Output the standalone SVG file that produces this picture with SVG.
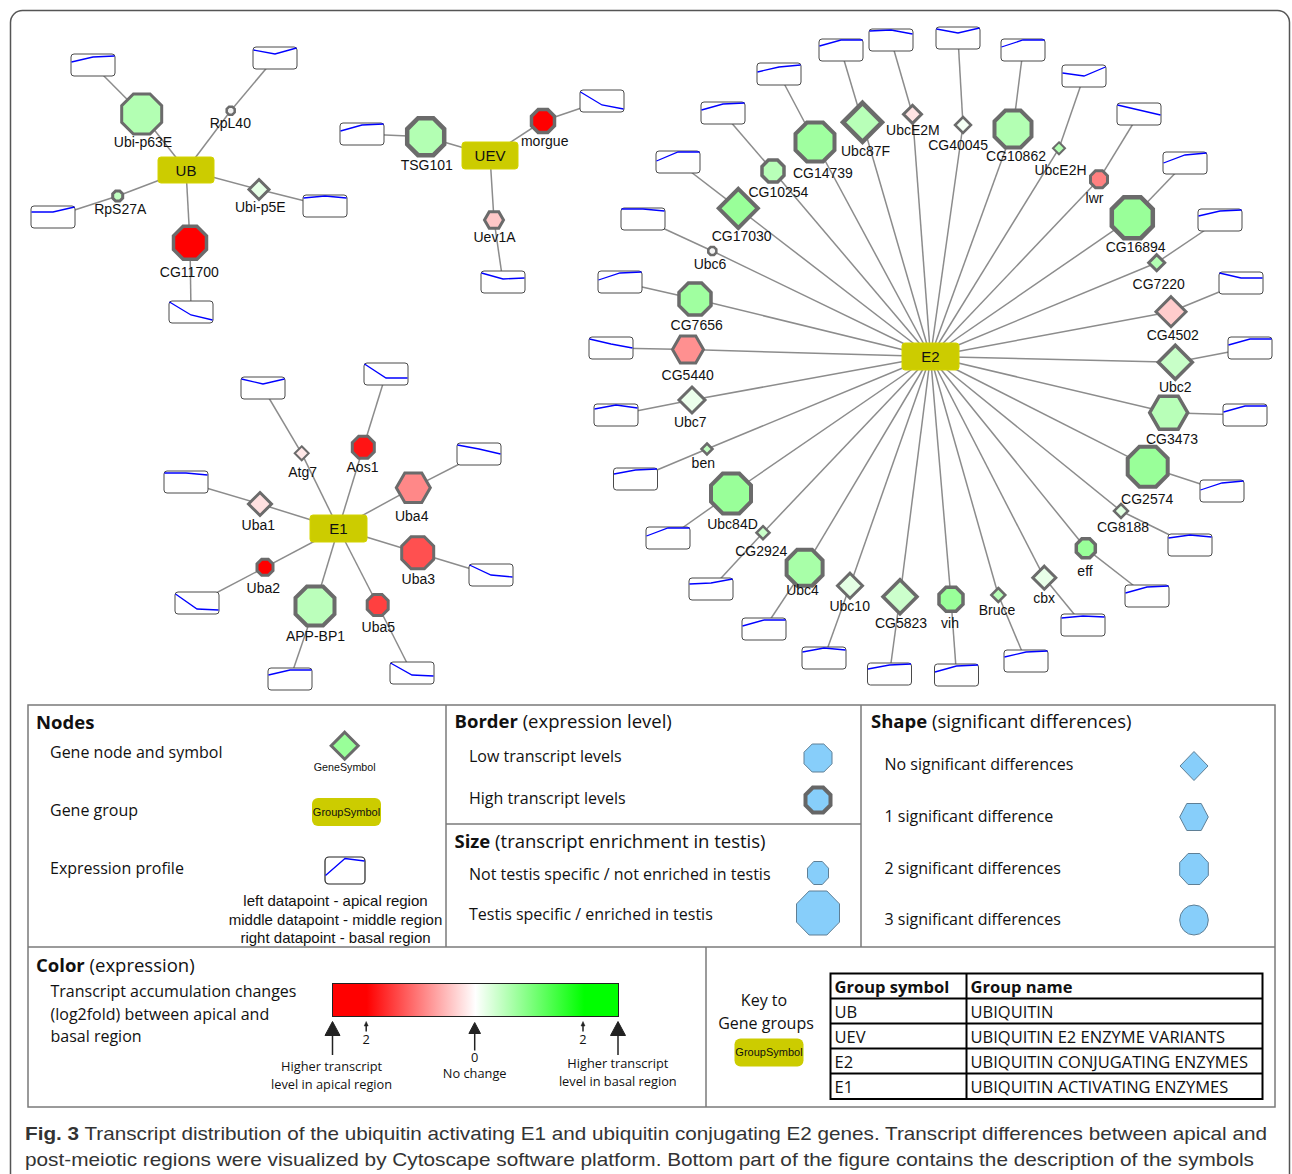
<svg xmlns="http://www.w3.org/2000/svg" width="1292" height="1174" viewBox="0 0 1292 1174">
<style>
.e{stroke:#8c8c8c;stroke-width:1.5;fill:none}
.pb{fill:#fff;stroke:#4a4a4a;stroke-width:1}
.pl{fill:none;stroke:#0000ff;stroke-width:1.3}
.n{stroke:#6b6b6b}
.lb{font-family:"Liberation Sans",Arial,sans-serif;font-size:14px;fill:#111;text-anchor:middle}
.gr{fill:#cccc00;stroke:#d4d400;stroke-width:1}
.gt{font-family:"Liberation Sans",Arial,sans-serif;font-size:15px;fill:#111;text-anchor:middle}
.fr{fill:none;stroke:#7a7a7a;stroke-width:1.5}
.lg{font-family:"Open Sans",sans-serif;font-size:16px;fill:#111}
.lh{font-family:"Open Sans",sans-serif;font-size:18.5px;fill:#111}
.tt{font-family:"Open Sans",sans-serif;font-size:16.5px;fill:#111}
.ct{font-family:"Open Sans",sans-serif;font-size:12.8px;fill:#111;text-anchor:middle}
.b{font-weight:bold}
.sm{font-family:"Liberation Sans",Arial,sans-serif;fill:#111;text-anchor:middle}
.lbl{fill:#87cefa;stroke:#5f7f95;stroke-width:1}
.ar{fill:#222;stroke:#222}
.as{stroke:#222;stroke-width:1.5}
.tb{fill:none;stroke:#000;stroke-width:2}
.cap{font-family:"Liberation Sans",Arial,sans-serif;font-size:19px;fill:#333}
</style>
<defs>
<polygon id="oct" points="1,-0.414 1,0.414 0.414,1 -0.414,1 -1,0.414 -1,-0.414 -0.414,-1 0.414,-1"/>
<polygon id="hex" points="1,0 0.5,0.866 -0.5,0.866 -1,0 -0.5,-0.866 0.5,-0.866"/>
<polygon id="dia" points="0,-1 1,0 0,1 -1,0"/>
<linearGradient id="grad" x1="0" y1="0" x2="1" y2="0">
<stop offset="0" stop-color="#ff0000"/>
<stop offset="0.12" stop-color="#ff0000"/>
<stop offset="0.5" stop-color="#ffffff"/>
<stop offset="0.88" stop-color="#00ff00"/>
<stop offset="1" stop-color="#00ff00"/>
</linearGradient>
</defs>
<rect x="10.5" y="10.5" width="1279" height="1220" rx="12" fill="none" stroke="#555" stroke-width="1.5"/>

<g id="connectors" class="e">
<line x1="186" y1="170" x2="141.7" y2="114"/><line x1="141.7" y1="114" x2="93" y2="65"/>
<line x1="186" y1="170" x2="230.7" y2="110.7"/><line x1="230.7" y1="110.7" x2="275" y2="58"/>
<line x1="186" y1="170" x2="259" y2="189.5"/><line x1="259" y1="189.5" x2="325" y2="206"/>
<line x1="186" y1="170" x2="117.7" y2="196"/><line x1="117.7" y1="196" x2="53" y2="217"/>
<line x1="186" y1="170" x2="190" y2="242.7"/><line x1="190" y1="242.7" x2="191" y2="312"/>
<line x1="490" y1="155.5" x2="425.7" y2="136.7"/><line x1="425.7" y1="136.7" x2="362" y2="134"/>
<line x1="490" y1="155.5" x2="543" y2="121"/><line x1="543" y1="121" x2="602" y2="101"/>
<line x1="490" y1="155.5" x2="494" y2="220"/><line x1="494" y1="220" x2="503" y2="282"/>
<line x1="338.5" y1="528.5" x2="301.7" y2="453.3"/><line x1="301.7" y1="453.3" x2="263" y2="388"/>
<line x1="338.5" y1="528.5" x2="363.3" y2="447.3"/><line x1="363.3" y1="447.3" x2="386" y2="374"/>
<line x1="338.5" y1="528.5" x2="413.3" y2="487.7"/><line x1="413.3" y1="487.7" x2="479" y2="454"/>
<line x1="338.5" y1="528.5" x2="417.7" y2="552.7"/><line x1="417.7" y1="552.7" x2="491" y2="575"/>
<line x1="338.5" y1="528.5" x2="377.7" y2="605"/><line x1="377.7" y1="605" x2="412" y2="673"/>
<line x1="338.5" y1="528.5" x2="315" y2="606"/><line x1="315" y1="606" x2="290" y2="679"/>
<line x1="338.5" y1="528.5" x2="265" y2="567.3"/><line x1="265" y1="567.3" x2="197" y2="603"/>
<line x1="338.5" y1="528.5" x2="260" y2="504"/><line x1="260" y1="504" x2="186" y2="482"/>
<line x1="930.5" y1="356.5" x2="773" y2="171"/><line x1="773" y1="171" x2="723" y2="113"/>
<line x1="930.5" y1="356.5" x2="738.3" y2="208.3"/><line x1="738.3" y1="208.3" x2="678" y2="162"/>
<line x1="930.5" y1="356.5" x2="815" y2="142"/><line x1="815" y1="142" x2="779" y2="74"/>
<line x1="930.5" y1="356.5" x2="862.5" y2="122.3"/><line x1="862.5" y1="122.3" x2="841" y2="50"/>
<line x1="930.5" y1="356.5" x2="912.5" y2="114.3"/><line x1="912.5" y1="114.3" x2="891" y2="40"/>
<line x1="930.5" y1="356.5" x2="963" y2="125"/><line x1="963" y1="125" x2="958" y2="38"/>
<line x1="930.5" y1="356.5" x2="1013" y2="129"/><line x1="1013" y1="129" x2="1023" y2="50"/>
<line x1="930.5" y1="356.5" x2="1059" y2="148.3"/><line x1="1059" y1="148.3" x2="1084" y2="76"/>
<line x1="930.5" y1="356.5" x2="1099" y2="179.3"/><line x1="1099" y1="179.3" x2="1139" y2="114"/>
<line x1="930.5" y1="356.5" x2="1132.3" y2="217.7"/><line x1="1132.3" y1="217.7" x2="1185" y2="163"/>
<line x1="930.5" y1="356.5" x2="1156.7" y2="262.7"/><line x1="1156.7" y1="262.7" x2="1220" y2="220"/>
<line x1="930.5" y1="356.5" x2="1171" y2="311.7"/><line x1="1171" y1="311.7" x2="1241" y2="283"/>
<line x1="930.5" y1="356.5" x2="1175.3" y2="362.3"/><line x1="1175.3" y1="362.3" x2="1250" y2="348"/>
<line x1="930.5" y1="356.5" x2="1168.7" y2="412.7"/><line x1="1168.7" y1="412.7" x2="1245" y2="415"/>
<line x1="930.5" y1="356.5" x2="1147.7" y2="466.7"/><line x1="1147.7" y1="466.7" x2="1222" y2="491"/>
<line x1="930.5" y1="356.5" x2="1121" y2="511"/><line x1="1121" y1="511" x2="1190" y2="545"/>
<line x1="930.5" y1="356.5" x2="1085.8" y2="548.3"/><line x1="1085.8" y1="548.3" x2="1147" y2="596"/>
<line x1="930.5" y1="356.5" x2="1044.3" y2="577.7"/><line x1="1044.3" y1="577.7" x2="1083" y2="625"/>
<line x1="930.5" y1="356.5" x2="998.3" y2="595"/><line x1="998.3" y1="595" x2="1026" y2="661"/>
<line x1="930.5" y1="356.5" x2="951" y2="599.3"/><line x1="951" y1="599.3" x2="956.5" y2="675"/>
<line x1="930.5" y1="356.5" x2="900" y2="596.7"/><line x1="900" y1="596.7" x2="889.5" y2="674"/>
<line x1="930.5" y1="356.5" x2="850" y2="585.7"/><line x1="850" y1="585.7" x2="824" y2="658"/>
<line x1="930.5" y1="356.5" x2="804.6" y2="567.7"/><line x1="804.6" y1="567.7" x2="764" y2="629"/>
<line x1="930.5" y1="356.5" x2="763" y2="532.7"/><line x1="763" y1="532.7" x2="711" y2="589"/>
<line x1="930.5" y1="356.5" x2="731" y2="493.5"/><line x1="731" y1="493.5" x2="668" y2="538"/>
<line x1="930.5" y1="356.5" x2="707" y2="449"/><line x1="707" y1="449" x2="635.5" y2="479"/>
<line x1="930.5" y1="356.5" x2="692" y2="400"/><line x1="692" y1="400" x2="616" y2="415"/>
<line x1="930.5" y1="356.5" x2="688" y2="349.5"/><line x1="688" y1="349.5" x2="611" y2="348"/>
<line x1="930.5" y1="356.5" x2="695" y2="299"/><line x1="695" y1="299" x2="620" y2="282"/>
<line x1="930.5" y1="356.5" x2="712.3" y2="251"/><line x1="712.3" y1="251" x2="643" y2="219"/>
</g>

<g id="profiles">
<g id="p-Ubi-p63E"><rect class="pb" x="71" y="54" width="44" height="22" rx="3"/><polyline class="pl" points="71.5,62 93,57 114.5,56"/></g>
<g id="p-RpL40"><rect class="pb" x="253" y="47" width="44" height="22" rx="3"/><polyline class="pl" points="253.5,50 275,54 296.5,48"/></g>
<g id="p-Ubi-p5E"><rect class="pb" x="303" y="195" width="44" height="22" rx="3"/><polyline class="pl" points="303.5,198 325,196 346.5,198"/></g>
<g id="p-RpS27A"><rect class="pb" x="31" y="206" width="44" height="22" rx="3"/><polyline class="pl" points="31.5,212 53,212 74.5,207"/></g>
<g id="p-CG11700"><rect class="pb" x="169" y="301" width="44" height="22" rx="3"/><polyline class="pl" points="169.5,302 191,315 212.5,320"/></g>
<g id="p-TSG101"><rect class="pb" x="340" y="123" width="44" height="22" rx="3"/><polyline class="pl" points="340.5,131 362,125 383.5,124"/></g>
<g id="p-morgue"><rect class="pb" x="580" y="90" width="44" height="22" rx="3"/><polyline class="pl" points="580.5,92 602,105 623.5,109"/></g>
<g id="p-Uev1A"><rect class="pb" x="481" y="271" width="44" height="22" rx="3"/><polyline class="pl" points="481.5,273 503,279 524.5,278"/></g>
<g id="p-Atg7"><rect class="pb" x="241" y="377" width="44" height="22" rx="3"/><polyline class="pl" points="241.5,379 263,384 284.5,379"/></g>
<g id="p-Aos1"><rect class="pb" x="364" y="363" width="44" height="22" rx="3"/><polyline class="pl" points="364.5,364 386,378 407.5,378"/></g>
<g id="p-Uba4"><rect class="pb" x="457" y="443" width="44" height="22" rx="3"/><polyline class="pl" points="457.5,445 479,449 500.5,454"/></g>
<g id="p-Uba3"><rect class="pb" x="469" y="564" width="44" height="22" rx="3"/><polyline class="pl" points="469.5,565 491,575 512.5,577"/></g>
<g id="p-Uba5"><rect class="pb" x="390" y="662" width="44" height="22" rx="3"/><polyline class="pl" points="390.5,663 412,675 433.5,676"/></g>
<g id="p-APP-BP1"><rect class="pb" x="268" y="668" width="44" height="22" rx="3"/><polyline class="pl" points="268.5,675 290,670 311.5,670"/></g>
<g id="p-Uba2"><rect class="pb" x="175" y="592" width="44" height="22" rx="3"/><polyline class="pl" points="175.5,594 197,609 218.5,610"/></g>
<g id="p-Uba1"><rect class="pb" x="164" y="471" width="44" height="22" rx="3"/><polyline class="pl" points="164.5,473 186,473 207.5,475"/></g>
<g id="p-CG10254"><rect class="pb" x="701" y="102" width="44" height="22" rx="3"/><polyline class="pl" points="701.5,110 723,104 744.5,103"/></g>
<g id="p-CG17030"><rect class="pb" x="656" y="151" width="44" height="22" rx="3"/><polyline class="pl" points="656.5,161 678,152 699.5,152"/></g>
<g id="p-CG14739"><rect class="pb" x="757" y="63" width="44" height="22" rx="3"/><polyline class="pl" points="757.5,72 779,67 800.5,65"/></g>
<g id="p-Ubc87F"><rect class="pb" x="819" y="39" width="44" height="22" rx="3"/><polyline class="pl" points="819.5,46 841,40 862.5,40"/></g>
<g id="p-UbcE2M"><rect class="pb" x="869" y="29" width="44" height="22" rx="3"/><polyline class="pl" points="869.5,31 891,30 912.5,34"/></g>
<g id="p-CG40045"><rect class="pb" x="936" y="27" width="44" height="22" rx="3"/><polyline class="pl" points="936.5,29 958,33 979.5,28"/></g>
<g id="p-CG10862"><rect class="pb" x="1001" y="39" width="44" height="22" rx="3"/><polyline class="pl" points="1001.5,47 1023,40 1044.5,40"/></g>
<g id="p-UbcE2H"><rect class="pb" x="1062" y="65" width="44" height="22" rx="3"/><polyline class="pl" points="1062.5,73 1084,76 1105.5,67"/></g>
<g id="p-lwr"><rect class="pb" x="1117" y="103" width="44" height="22" rx="3"/><polyline class="pl" points="1117.5,105 1139,110 1160.5,115"/></g>
<g id="p-CG16894"><rect class="pb" x="1163" y="152" width="44" height="22" rx="3"/><polyline class="pl" points="1163.5,163 1185,155 1206.5,153"/></g>
<g id="p-CG7220"><rect class="pb" x="1198" y="209" width="44" height="22" rx="3"/><polyline class="pl" points="1198.5,216 1220,211 1241.5,210"/></g>
<g id="p-CG4502"><rect class="pb" x="1219" y="272" width="44" height="22" rx="3"/><polyline class="pl" points="1219.5,273 1241,278 1262.5,278"/></g>
<g id="p-Ubc2"><rect class="pb" x="1228" y="337" width="44" height="22" rx="3"/><polyline class="pl" points="1228.5,345 1250,339 1271.5,339"/></g>
<g id="p-CG3473"><rect class="pb" x="1223" y="404" width="44" height="22" rx="3"/><polyline class="pl" points="1223.5,412 1245,406 1266.5,406"/></g>
<g id="p-CG2574"><rect class="pb" x="1200" y="480" width="44" height="22" rx="3"/><polyline class="pl" points="1200.5,490 1222,483 1243.5,481"/></g>
<g id="p-CG8188"><rect class="pb" x="1168" y="534" width="44" height="22" rx="3"/><polyline class="pl" points="1168.5,538 1190,535 1211.5,537"/></g>
<g id="p-eff"><rect class="pb" x="1125" y="585" width="44" height="22" rx="3"/><polyline class="pl" points="1125.5,593 1147,587 1168.5,586"/></g>
<g id="p-cbx"><rect class="pb" x="1061" y="614" width="44" height="22" rx="3"/><polyline class="pl" points="1061.5,618 1083,616 1104.5,617"/></g>
<g id="p-Bruce"><rect class="pb" x="1004" y="650" width="44" height="22" rx="3"/><polyline class="pl" points="1004.5,657 1026,652 1047.5,651"/></g>
<g id="p-vih"><rect class="pb" x="934.5" y="664" width="44" height="22" rx="3"/><polyline class="pl" points="935,672 956.5,666 978,665"/></g>
<g id="p-CG5823"><rect class="pb" x="867.5" y="663" width="44" height="22" rx="3"/><polyline class="pl" points="868,669 889.5,665 911,664"/></g>
<g id="p-Ubc10"><rect class="pb" x="802" y="647" width="44" height="22" rx="3"/><polyline class="pl" points="802.5,652 824,648 845.5,650"/></g>
<g id="p-Ubc4"><rect class="pb" x="742" y="618" width="44" height="22" rx="3"/><polyline class="pl" points="742.5,626 764,620 785.5,620"/></g>
<g id="p-CG2924"><rect class="pb" x="689" y="578" width="44" height="22" rx="3"/><polyline class="pl" points="689.5,584 711,583 732.5,579"/></g>
<g id="p-Ubc84D"><rect class="pb" x="646" y="527" width="44" height="22" rx="3"/><polyline class="pl" points="646.5,536 668,528 689.5,528"/></g>
<g id="p-ben"><rect class="pb" x="613.5" y="468" width="44" height="22" rx="3"/><polyline class="pl" points="614,474 635.5,470 657,469"/></g>
<g id="p-Ubc7"><rect class="pb" x="594" y="404" width="44" height="22" rx="3"/><polyline class="pl" points="594.5,409 616,405 637.5,408"/></g>
<g id="p-CG5440"><rect class="pb" x="589" y="337" width="44" height="22" rx="3"/><polyline class="pl" points="589.5,339 611,344 632.5,348"/></g>
<g id="p-CG7656"><rect class="pb" x="598" y="271" width="44" height="22" rx="3"/><polyline class="pl" points="598.5,280 620,273 641.5,272"/></g>
<g id="p-Ubc6"><rect class="pb" x="621" y="208" width="44" height="22" rx="3"/><polyline class="pl" points="621.5,209 643,209 664.5,211"/></g>
</g>

<g id="groups">
<g id="g-UB"><rect class="gr" x="158" y="157" width="56" height="26" rx="3"/><text class="gt" x="186" y="175.5">UB</text></g>
<g id="g-UEV"><rect class="gr" x="462" y="142" width="56" height="27" rx="3"/><text class="gt" x="490" y="161">UEV</text></g>
<g id="g-E2"><rect class="gr" x="902" y="343" width="57" height="27" rx="3"/><text class="gt" x="930.5" y="362">E2</text></g>
<g id="g-E1"><rect class="gr" x="310" y="515" width="57" height="27" rx="3"/><text class="gt" x="338.5" y="534">E1</text></g>
</g>

<g id="genes">
<g id="n-Ubi-p63E"><use href="#oct" class="n" transform="translate(141.7 114) scale(20)" fill="#b3ffb3" stroke-width="0.15"/><text class="lb" x="143" y="147">Ubi-p63E</text></g>
<g id="n-RpL40"><use href="#oct" class="n" transform="translate(230.7 110.7) scale(4)" fill="#f0f0f0" stroke-width="0.625"/><text class="lb" x="230.3" y="128">RpL40</text></g>
<g id="n-Ubi-p5E"><use href="#dia" class="n" transform="translate(259 189.5) scale(10)" fill="#e6ffe6" stroke-width="0.3"/><text class="lb" x="260.3" y="212">Ubi-p5E</text></g>
<g id="n-RpS27A"><use href="#oct" class="n" transform="translate(117.7 196) scale(5)" fill="#c0ffc0" stroke-width="0.6"/><text class="lb" x="120.3" y="214">RpS27A</text></g>
<g id="n-CG11700"><use href="#oct" class="n" transform="translate(190 242.7) scale(16.5)" fill="#ff0000" stroke-width="0.212"/><text class="lb" x="189.3" y="277">CG11700</text></g>
<g id="n-TSG101"><use href="#oct" class="n" transform="translate(425.7 136.7) scale(18.5)" fill="#b3ffb3" stroke-width="0.243"/><text class="lb" x="426.7" y="170">TSG101</text></g>
<g id="n-morgue"><use href="#oct" class="n" transform="translate(543 121) scale(11.5)" fill="#ff0000" stroke-width="0.304"/><text class="lb" x="544.7" y="146">morgue</text></g>
<g id="n-Uev1A"><use href="#hex" class="n" transform="translate(494 220) scale(9.5)" fill="#ffc8c8" stroke-width="0.316"/><text class="lb" x="494.5" y="242">Uev1A</text></g>
<g id="n-Atg7"><use href="#dia" class="n" transform="translate(301.7 453.3) scale(7)" fill="#ffe8e8" stroke-width="0.286"/><text class="lb" x="302.7" y="477">Atg7</text></g>
<g id="n-Aos1"><use href="#oct" class="n" transform="translate(363.3 447.3) scale(11)" fill="#ff1414" stroke-width="0.273"/><text class="lb" x="362.5" y="472">Aos1</text></g>
<g id="n-Uba4"><use href="#hex" class="n" transform="translate(413.3 487.7) scale(17)" fill="#ff8888" stroke-width="0.176"/><text class="lb" x="411.7" y="521">Uba4</text></g>
<g id="n-Uba3"><use href="#oct" class="n" transform="translate(417.7 552.7) scale(16)" fill="#ff5050" stroke-width="0.1875"/><text class="lb" x="418.3" y="584">Uba3</text></g>
<g id="n-Uba5"><use href="#oct" class="n" transform="translate(377.7 605) scale(10.5)" fill="#ff4040" stroke-width="0.286"/><text class="lb" x="378.3" y="632">Uba5</text></g>
<g id="n-APP-BP1"><use href="#oct" class="n" transform="translate(315 606) scale(19.5)" fill="#bbffbb" stroke-width="0.205"/><text class="lb" x="315.5" y="641">APP-BP1</text></g>
<g id="n-Uba2"><use href="#oct" class="n" transform="translate(265 567.3) scale(8)" fill="#ff0000" stroke-width="0.375"/><text class="lb" x="263.3" y="593">Uba2</text></g>
<g id="n-Uba1"><use href="#dia" class="n" transform="translate(260 504) scale(11.5)" fill="#ffe0e0" stroke-width="0.261"/><text class="lb" x="258.3" y="530">Uba1</text></g>
<g id="n-CG7656"><use href="#oct" class="n" transform="translate(695 299) scale(16)" fill="#a0ffa0" stroke-width="0.219"/><text class="lb" x="696.7" y="330">CG7656</text></g>
<g id="n-CG5440"><use href="#hex" class="n" transform="translate(688 349.5) scale(15.5)" fill="#ff9090" stroke-width="0.194"/><text class="lb" x="687.7" y="380">CG5440</text></g>
<g id="n-Ubc7"><use href="#dia" class="n" transform="translate(692 400) scale(13)" fill="#ecffec" stroke-width="0.231"/><text class="lb" x="690.3" y="427">Ubc7</text></g>
<g id="n-ben"><use href="#dia" class="n" transform="translate(707 449) scale(5.5)" fill="#c0ffc0" stroke-width="0.455"/><text class="lb" x="703.3" y="467.5">ben</text></g>
<g id="n-Ubc84D"><use href="#oct" class="n" transform="translate(731 493.5) scale(20)" fill="#99ff99" stroke-width="0.2"/><text class="lb" x="732.5" y="528.5">Ubc84D</text></g>
<g id="n-CG2924"><use href="#dia" class="n" transform="translate(763 532.7) scale(6.5)" fill="#c8ffc8" stroke-width="0.385"/><text class="lb" x="761.3" y="556">CG2924</text></g>
<g id="n-Ubc4"><use href="#oct" class="n" transform="translate(804.6 567.7) scale(18)" fill="#a8ffa8" stroke-width="0.222"/><text class="lb" x="802.5" y="595">Ubc4</text></g>
<g id="n-Ubc10"><use href="#dia" class="n" transform="translate(850 585.7) scale(12.5)" fill="#e4ffe4" stroke-width="0.24"/><text class="lb" x="849.7" y="611">Ubc10</text></g>
<g id="n-CG5823"><use href="#dia" class="n" transform="translate(900 596.7) scale(17)" fill="#ccffcc" stroke-width="0.206"/><text class="lb" x="901" y="628">CG5823</text></g>
<g id="n-vih"><use href="#oct" class="n" transform="translate(951 599.3) scale(12)" fill="#99ff99" stroke-width="0.292"/><text class="lb" x="950" y="628">vih</text></g>
<g id="n-Bruce"><use href="#dia" class="n" transform="translate(998.3 595) scale(7)" fill="#b8ffb8" stroke-width="0.357"/><text class="lb" x="997" y="615">Bruce</text></g>
<g id="n-cbx"><use href="#dia" class="n" transform="translate(1044.3 577.7) scale(11.5)" fill="#e8ffe8" stroke-width="0.261"/><text class="lb" x="1044.2" y="603">cbx</text></g>
<g id="n-eff"><use href="#oct" class="n" transform="translate(1085.8 548.3) scale(9.5)" fill="#99ff99" stroke-width="0.368"/><text class="lb" x="1085" y="576">eff</text></g>
<g id="n-CG8188"><use href="#dia" class="n" transform="translate(1121 511) scale(7)" fill="#e0ffe0" stroke-width="0.357"/><text class="lb" x="1123" y="532">CG8188</text></g>
<g id="n-CG2574"><use href="#oct" class="n" transform="translate(1147.7 466.7) scale(20)" fill="#99ff99" stroke-width="0.2"/><text class="lb" x="1147.2" y="503.5">CG2574</text></g>
<g id="n-CG3473"><use href="#hex" class="n" transform="translate(1168.7 412.7) scale(19)" fill="#b8ffb8" stroke-width="0.184"/><text class="lb" x="1172" y="444">CG3473</text></g>
<g id="n-Ubc2"><use href="#dia" class="n" transform="translate(1175.3 362.3) scale(17)" fill="#c8ffc8" stroke-width="0.206"/><text class="lb" x="1175.3" y="392">Ubc2</text></g>
<g id="n-CG4502"><use href="#dia" class="n" transform="translate(1171 311.7) scale(15)" fill="#ffcccc" stroke-width="0.2"/><text class="lb" x="1172.8" y="339.5">CG4502</text></g>
<g id="n-CG7220"><use href="#dia" class="n" transform="translate(1156.7 262.7) scale(8)" fill="#b3ffb3" stroke-width="0.375"/><text class="lb" x="1158.7" y="288.5">CG7220</text></g>
<g id="n-CG16894"><use href="#oct" class="n" transform="translate(1132.3 217.7) scale(20.5)" fill="#99ff99" stroke-width="0.22"/><text class="lb" x="1135.7" y="252">CG16894</text></g>
<g id="n-lwr"><use href="#oct" class="n" transform="translate(1099 179.3) scale(8.5)" fill="#ff8080" stroke-width="0.353"/><text class="lb" x="1094.5" y="202.5">lwr</text></g>
<g id="n-UbcE2H"><use href="#dia" class="n" transform="translate(1059 148.3) scale(6)" fill="#b0ffb0" stroke-width="0.333"/><text class="lb" x="1060.5" y="175">UbcE2H</text></g>
<g id="n-CG10862"><use href="#oct" class="n" transform="translate(1013 129) scale(18.5)" fill="#b3ffb3" stroke-width="0.216"/><text class="lb" x="1016" y="161">CG10862</text></g>
<g id="n-CG40045"><use href="#dia" class="n" transform="translate(963 125) scale(8)" fill="#f4fff4" stroke-width="0.3125"/><text class="lb" x="958.2" y="149.5">CG40045</text></g>
<g id="n-UbcE2M"><use href="#dia" class="n" transform="translate(912.5 114.3) scale(9)" fill="#ffe4e4" stroke-width="0.333"/><text class="lb" x="912.9" y="134.5">UbcE2M</text></g>
<g id="n-Ubc87F"><use href="#dia" class="n" transform="translate(862.5 122.3) scale(19.5)" fill="#b8ffb8" stroke-width="0.231"/><text class="lb" x="865.5" y="156">Ubc87F</text></g>
<g id="n-CG14739"><use href="#oct" class="n" transform="translate(815 142) scale(19.5)" fill="#a0ffa0" stroke-width="0.205"/><text class="lb" x="822.9" y="178">CG14739</text></g>
<g id="n-CG10254"><use href="#oct" class="n" transform="translate(773 171) scale(11)" fill="#b8ffb8" stroke-width="0.318"/><text class="lb" x="778.4" y="197">CG10254</text></g>
<g id="n-CG17030"><use href="#dia" class="n" transform="translate(738.3 208.3) scale(19.5)" fill="#99ff99" stroke-width="0.205"/><text class="lb" x="741.7" y="241">CG17030</text></g>
<g id="n-Ubc6"><use href="#oct" class="n" transform="translate(712.3 251) scale(4)" fill="#f4f4f4" stroke-width="0.625"/><text class="lb" x="710" y="268.5">Ubc6</text></g>
</g>

<g id="legend">
<g id="legend-frame" class="fr">
<rect x="28" y="705" width="1247" height="402"/>
<line x1="446" y1="705" x2="446" y2="947"/>
<line x1="861" y1="705" x2="861" y2="947"/>
<line x1="446" y1="824" x2="861" y2="824"/>
<line x1="28" y1="947" x2="1275" y2="947"/>
<line x1="706" y1="947" x2="706" y2="1107"/>
</g>
<g id="legend-nodes">
<text class="lh" x="36" y="729"><tspan class="b">Nodes</tspan></text>
<text class="lg" x="50" y="758">Gene node and symbol</text>
<use href="#dia" class="n" transform="translate(344.7 745.7) scale(13.5)" fill="#99ff99" stroke-width="0.222"/>
<text class="sm" x="344.7" y="771" font-size="10.7">GeneSymbol</text>
<text class="lg" x="50" y="816">Gene group</text>
<rect x="312" y="798" width="69" height="28" rx="6" fill="#cccc00"/>
<text class="sm" x="346.5" y="815.5" font-size="11">GroupSymbol</text>
<text class="lg" x="50" y="874">Expression profile</text>
<rect x="325" y="857" width="40" height="27" rx="4" fill="#fff" stroke="#222" stroke-width="1.2"/>
<polyline class="pl" points="325.5,875.5 345,858.5 364.5,861"/>
<text class="sm" x="335.5" y="906" font-size="15">left datapoint - apical region</text>
<text class="sm" x="335.5" y="924.5" font-size="15">middle datapoint - middle region</text>
<text class="sm" x="335.5" y="943" font-size="15">right datapoint - basal region</text>
</g>
<g id="legend-border">
<text class="lh" x="454.5" y="728"><tspan class="b">Border</tspan> (expression level)</text>
<text class="lg" x="469" y="762">Low transcript levels</text>
<polygon class="lbl" points="832,752.2 832,763.8 823.8,772 812.2,772 804,763.8 804,752.2 812.2,744 823.8,744"/>
<text class="lg" x="469" y="804">High transcript levels</text>
<polygon fill="#87cefa" stroke="#666" stroke-width="4" points="830.5,794.8 830.5,805.2 823.2,812.5 812.8,812.5 805.5,805.2 805.5,794.8 812.8,787.5 823.2,787.5"/>
</g>
<g id="legend-size">
<text class="lh" x="454.5" y="848"><tspan class="b">Size</tspan> (transcript enrichment in testis)</text>
<text class="lg" x="469" y="880">Not testis specific / not enriched in testis</text>
<polygon class="lbl" points="828.5,868.2 828.5,877.8 822.3,884.5 813.7,884.5 807.5,877.8 807.5,868.2 813.7,861.5 822.3,861.5"/>
<text class="lg" x="469" y="920">Testis specific / enriched in testis</text>
<polygon class="lbl" points="839.5,903.9 839.5,922.1 826.9,935 809.1,935 796.5,922.1 796.5,903.9 809.1,891 826.9,891"/>
</g>
<g id="legend-shape">
<text class="lh" x="871" y="728"><tspan class="b">Shape</tspan> (significant differences)</text>
<text class="lg" x="884.5" y="770">No significant differences</text>
<polygon class="lbl" points="1194,751.5 1208,766 1194,780.5 1180,766"/>
<text class="lg" x="884.5" y="822">1 significant difference</text>
<polygon class="lbl" points="1208.3,817 1201.2,830.5 1186.8,830.5 1179.7,817 1186.8,803.5 1201.2,803.5"/>
<text class="lg" x="884.5" y="873.5">2 significant differences</text>
<polygon class="lbl" points="1208.3,862.6 1208.3,875.4 1199.9,884.5 1188.1,884.5 1179.7,875.4 1179.7,862.6 1188.1,853.5 1199.9,853.5"/>
<text class="lg" x="884.5" y="925">3 significant differences</text>
<ellipse class="lbl" cx="1194" cy="920" rx="14.3" ry="15"/>
</g>
<g id="legend-color">
<text class="lh" x="36" y="971.5"><tspan class="b">Color</tspan> (expression)</text>
<text class="lg" x="50.5" y="997">Transcript accumulation changes</text>
<text class="lg" x="50.5" y="1019.5">(log2fold) between apical and</text>
<text class="lg" x="50.5" y="1042">basal region</text>
<rect x="332.5" y="983.5" width="286" height="33" fill="url(#grad)" stroke="#222" stroke-width="1"/>
<polygon class="ar" points="332.5,1021.5 340,1035.5 325,1035.5"/>
<line class="as" x1="332.5" y1="1035" x2="332.5" y2="1055"/>
<polygon class="ar" points="618,1021.5 625.5,1035.5 610.5,1035.5"/>
<line class="as" x1="618" y1="1035" x2="618" y2="1055"/>
<polygon class="ar" points="366.2,1021.5 368.2,1026 364.2,1026" stroke-width="0.5"/>
<line class="as" x1="366.2" y1="1025" x2="366.2" y2="1031.5" stroke-width="1"/>
<polygon class="ar" points="583,1021.5 585,1026 581,1026" stroke-width="0.5"/>
<line class="as" x1="583" y1="1025" x2="583" y2="1031.5" stroke-width="1"/>
<polygon class="ar" points="474.7,1022.5 480.5,1033.5 468.9,1033.5"/>
<line class="as" x1="474.7" y1="1033" x2="474.7" y2="1050.5"/>
<text class="ct" x="366.2" y="1043.5">2</text>
<text class="ct" x="583" y="1043.5">2</text>
<text class="ct" x="474.7" y="1062">0</text>
<text class="ct" x="474.7" y="1077.5">No change</text>
<text class="ct" x="331.6" y="1070.5">Higher transcript</text>
<text class="ct" x="331.6" y="1089">level in apical region</text>
<text class="ct" x="617.8" y="1067.5">Higher transcript</text>
<text class="ct" x="617.8" y="1086">level in basal region</text>
</g>
<g id="legend-key">
<text class="lg" x="764" y="1006" text-anchor="middle">Key to</text>
<text class="lg" x="766" y="1028.5" text-anchor="middle">Gene groups</text>
<rect x="734.5" y="1038.5" width="69" height="28" rx="6" fill="#cccc00"/>
<text class="sm" x="769" y="1055.5" font-size="11">GroupSymbol</text>
<rect class="tb" x="830.5" y="973.5" width="432" height="125.5"/>
<line class="tb" x1="966.5" y1="973.5" x2="966.5" y2="1099"/>
<line class="tb" x1="830.5" y1="998.5" x2="1262.5" y2="998.5"/>
<line class="tb" x1="830.5" y1="1023.5" x2="1262.5" y2="1023.5"/>
<line class="tb" x1="830.5" y1="1048.5" x2="1262.5" y2="1048.5"/>
<line class="tb" x1="830.5" y1="1073.5" x2="1262.5" y2="1073.5"/>
<text class="tt b" x="834.5" y="993">Group symbol</text>
<text class="tt b" x="970.5" y="993">Group name</text>
<text class="tt" x="834.5" y="1018">UB</text>
<text class="tt" x="970.5" y="1018">UBIQUITIN</text>
<text class="tt" x="834.5" y="1043">UEV</text>
<text class="tt" x="970.5" y="1043">UBIQUITIN E2 ENZYME VARIANTS</text>
<text class="tt" x="834.5" y="1068">E2</text>
<text class="tt" x="970.5" y="1068">UBIQUITIN CONJUGATING ENZYMES</text>
<text class="tt" x="834.5" y="1093">E1</text>
<text class="tt" x="970.5" y="1093">UBIQUITIN ACTIVATING ENZYMES</text>
</g>
</g>

<g id="caption">
<text class="cap" x="25" y="1140" textLength="1242" lengthAdjust="spacingAndGlyphs"><tspan font-weight="bold">Fig. 3</tspan> Transcript distribution of the ubiquitin activating E1 and ubiquitin conjugating E2 genes. Transcript differences between apical and</text>
<text class="cap" x="25" y="1166" textLength="1229" lengthAdjust="spacingAndGlyphs">post-meiotic regions were visualized by Cytoscape software platform. Bottom part of the figure contains the description of the symbols</text>
</g>
</svg>
